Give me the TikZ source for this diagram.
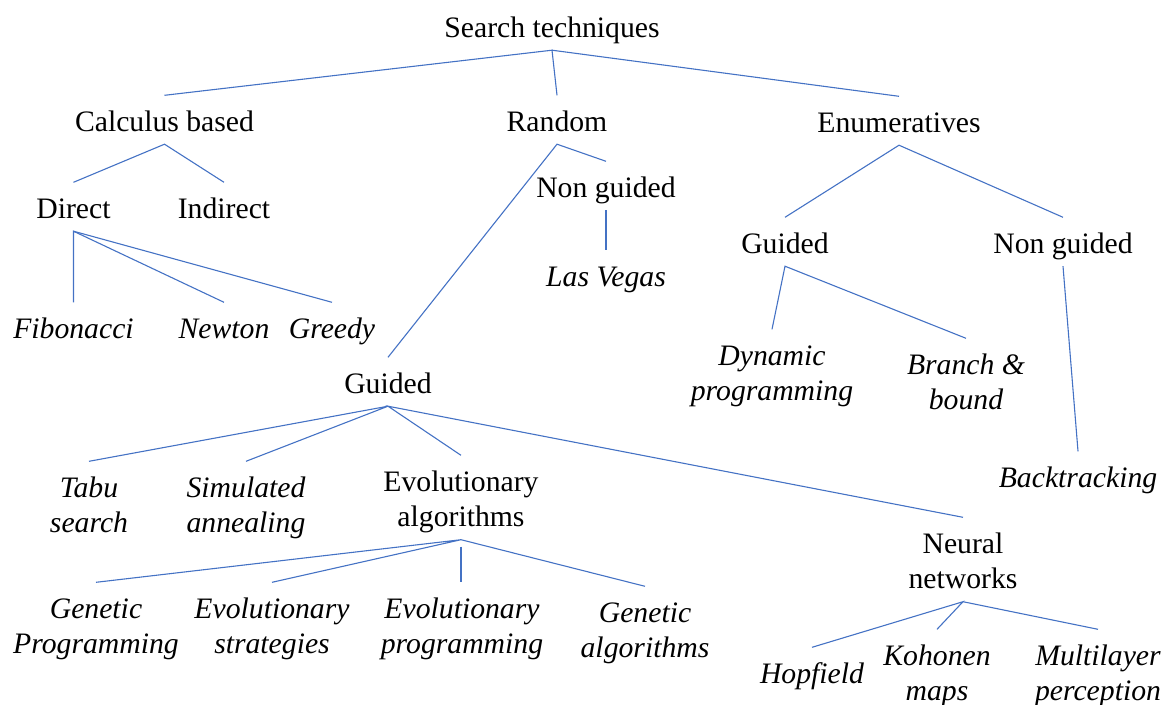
\documentclass[tikz,border=0pt]{standalone}
\usepackage{fontspec}
\setmainfont{Liberation Serif}
\definecolor{lineblue}{HTML}{4472C4}
\begin{document}
\begin{tikzpicture}[x=1pt,y=-1pt,
  every node/.style={inner xsep=2pt,inner ysep=0pt,anchor=base,align=center,
    font=\fontsize{29.7}{35.5}\selectfont,text height=35.5pt,text depth=13pt},
  two/.style={text height=71pt},
  it/.append style={font=\fontsize{29.7}{35.5}\selectfont\itshape},
  conn/.style={draw=lineblue,line width=1.1pt}]
\useasboundingbox (0,0) rectangle (1169,704);
% level 0
\node (st) at (552,37) {Search techniques};
% level 1
\node (cb) at (164.5,131) {Calculus based};
\node (rnd) at (557,131) {Random};
\node (en) at (899,132) {Enumeratives};
% calculus
\node (dir) at (73.5,218) {Direct};
\node (ind) at (224,218) {Indirect};
\node[it] (fib) at (73.5,338) {Fibonacci};
\node[it] (new) at (224,338) {Newton};
\node[it] (gre) at (332,338) {Greedy};
% random
\node (rng) at (606,197) {Non guided};
\node[it] (lv) at (606,286) {Las Vegas};
\node (gd) at (388,393) {Guided};
\node[it,two] (tabu) at (89,532.5) {Tabu\\search};
\node[it,two] (sa) at (246,532.5) {Simulated\\annealing};
\node[two] (ea) at (461,526.5) {Evolutionary\\algorithms};
\node[two] (nn) at (963,588.5) {Neural\\networks};
\node[it,two] (gp) at (96,653.5) {Genetic\\Programming};
\node[it,two] (es) at (272,653.5) {Evolutionary\\strategies};
\node[it,two] (ep) at (462,653.5) {Evolutionary\\programming};
\node[it,two] (ga) at (645,657.5) {Genetic\\algorithms};
\node[it] (hop) at (812,683) {Hopfield};
\node[it,two] (koh) at (937,700.5) {Kohonen\\maps};
\node[it,two] (mlp) at (1098,700.5) {Multilayer\\perception};
% enumeratives
\node (eg) at (785,253) {Guided};
\node (eng) at (1063,253) {Non guided};
\node[it,two] (dp) at (772,400.5) {Dynamic\\programming};
\node[it,two] (bb) at (966,409.5) {Branch \&\\bound};
\node[it] (bt) at (1078,487) {Backtracking};
% connectors
\draw[conn] (cb.north) -- (st.south) -- (rnd.north);
\draw[conn] (st.south) -- (en.north);
\draw[conn] (dir.north) -- (cb.south) -- (ind.north);
\draw[conn] (fib.north) -- (dir.south) -- (new.north);
\draw[conn] (dir.south) -- (gre.north);
\draw[conn] (gd.north) -- (rnd.south) -- (rng.north);
\draw[conn] (rng.south) -- (lv.north);
\draw[conn] (eg.north) -- (en.south) -- (eng.north);
\draw[conn] (dp.north) -- (eg.south) -- (bb.north);
\draw[conn] (eng.south) -- (bt.north);
\draw[conn] (tabu.north) -- (gd.south) -- (sa.north);
\draw[conn] (ea.north) -- (gd.south) -- (nn.north);
\draw[conn] (gp.north) -- (ea.south) -- (es.north);
\draw[conn] (ea.south) -- (ga.north);
\draw[conn,shorten <=7pt] (ea.south) -- (ea.south |- ep.north);
\draw[conn] (hop.north) -- (nn.south) -- (koh.north);
\draw[conn] (nn.south) -- (mlp.north);
\end{tikzpicture}
\end{document}
